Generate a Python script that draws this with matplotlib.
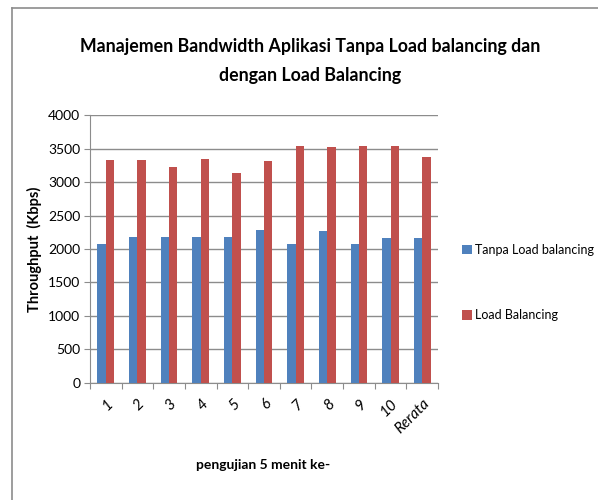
import numpy as np
import matplotlib
matplotlib.use("Agg")
import matplotlib.pyplot as plt
from matplotlib.lines import Line2D

plt.rcParams['font.family'] = ['Lato', 'DejaVu Sans']

# data
kategori = ['1', '2', '3', '4', '5', '6', '7', '8', '9', '10', 'Rerata']
tanpa_lb = [2067, 2182, 2182, 2182, 2172, 2277, 2067, 2262, 2077, 2167, 2167]
dengan_lb = [3327, 3327, 3228, 3339, 3133, 3318, 3542, 3527, 3542, 3542, 3382]

fig = plt.figure(figsize=(5.98, 5.0), dpi=100)
ax = fig.add_axes([0.1505, 0.2346, 0.582, 0.535])

x = np.arange(len(kategori))
w = 0.265
ax.bar(x - w / 2, tanpa_lb, w, color='#4F81BD', label='Tanpa Load balancing', zorder=3)
ax.bar(x + w / 2, dengan_lb, w, color='#C0504D', label='Load Balancing', zorder=3)

ax.set_xlim(-0.5, len(kategori) - 0.5)
ax.set_ylim(0, 4000)
ax.set_yticks(range(0, 4001, 500))
ax.yaxis.grid(True, color='#8c8c8c', linewidth=1, zorder=0)

# ticks between categories like Excel
ax.set_xticks(np.arange(-0.5, len(kategori), 1.0))
ax.set_xticklabels([])
ax.set_xticks(x, minor=True)
ax.set_xticklabels(kategori, minor=True, rotation=45, ha='right', va='top',
                   rotation_mode='anchor', fontsize=11, style='italic')
ax.tick_params(axis='x', which='minor', length=0, pad=10)
ax.tick_params(axis='x', which='major', length=4, color='#8c8c8c')
ax.tick_params(axis='y', length=4, color='#8c8c8c', labelsize=10, pad=3)

for s in ['top', 'right']:
    ax.spines[s].set_visible(False)
for s in ['left', 'bottom']:
    ax.spines[s].set_color('#8c8c8c')

ax.set_ylabel('Throughput  (Kbps)', fontsize=10.5, fontweight='bold', labelpad=4)
fig.text(0.44, 0.07, 'pengujian 5 menit ke-', ha='center', va='center',
         fontsize=10, fontweight='bold')

fig.text(0.518, 0.878, 'Manajemen Bandwidth Aplikasi Tanpa Load balancing dan\ndengan Load Balancing',
         ha='center', va='center', fontsize=12.8, fontweight='bold', linespacing=1.9)

fig.legend(loc='center left', bbox_to_anchor=(0.762, 0.435), frameon=False,
           fontsize=9, handlelength=0.8, handleheight=0.8, handletextpad=0.25,
           labelspacing=4.3, borderpad=0)

# partial chart border (left and top)
fig.add_artist(Line2D([0.02, 0.02], [0.0, 0.984], color='#8c8c8c', linewidth=1.2))
fig.add_artist(Line2D([0.02, 1.0], [0.984, 0.984], color='#8c8c8c', linewidth=1.2))

fig.savefig('out.png', dpi=100)
